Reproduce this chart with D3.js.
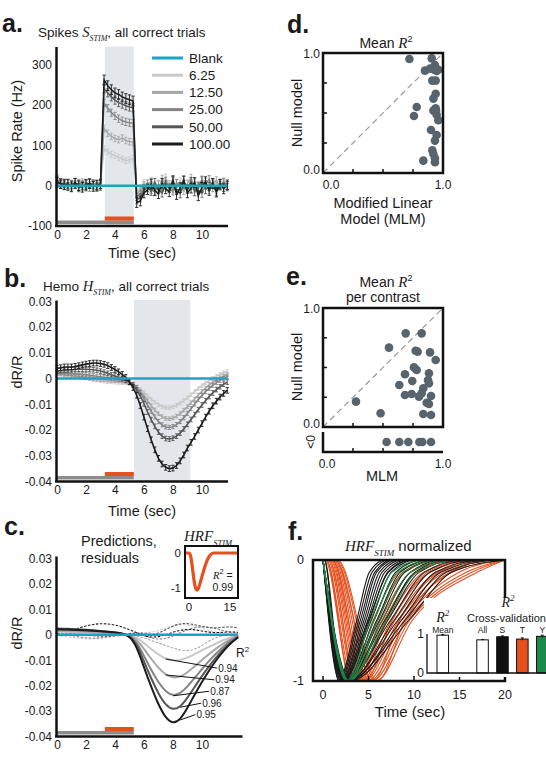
<!DOCTYPE html>
<html>
<head>
<meta charset="utf-8">
<script src="https://cdn.jsdelivr.net/npm/d3@7"></script>
<style>
  body { margin: 0; background: #fff; }
  text { font-family: "Liberation Sans", Arial, sans-serif; fill: #1a1a1a; }
</style>
</head>
<body>
<div id="chart"></div>
<script>
// ---------- data ----------
var contrasts = ["6.25", "12.50", "25.00", "50.00", "100.00"];

// sample times (sec) for panels a and b
var binTimes = [0,0.25,0.5,0.75,1,1.25,1.5,1.75,2,2.25,2.5,2.75,3,3.25,3.5,3.75,4,4.25,4.5,4.75,
  5,5.25,5.5,5.75,6,6.25,6.5,6.75,7,7.25,7.5,7.75,8,8.25,8.5,8.75,9,9.25,9.5,9.75,
  10,10.25,10.5,10.75,11,11.25,11.5,11.75];

// a. spike rate (Hz), one array per contrast
var spike6 = [20,10,3,8,0,5,-2,6,10,1,-3,8,4,
  92,84,78,74,70,66,62,64,68,
  -10,-6,8,-2,14,2,-8,10,22,-4,6,-6,12,0,-10,8,4,-6,18,2,-4,10,6,-2,12,4];
var spike12 = [18,4,8,-2,6,0,3,9,-4,2,5,-1,7,
  142,130,122,117,114,118,112,109,108,
  -20,-12,2,-8,10,-4,-12,18,-6,4,-10,8,-2,-14,6,20,-8,2,-6,10,-12,4,14,-4,6,-2];
var spike25 = [15,6,0,5,-4,2,7,-2,4,-5,6,0,-3,
  205,192,181,173,166,161,158,156,155,
  -28,-20,-6,5,-10,-16,3,-4,12,-8,-14,6,-2,14,-10,0,8,-12,-20,4,16,-6,-10,2,9,-4];
var spike50 = [12,3,6,-2,2,8,-5,1,-3,6,2,-4,3,
  240,230,220,212,206,202,198,195,193,
  -35,-30,-12,-4,-14,8,-10,-18,2,-6,15,-12,-20,4,-8,10,-15,-3,12,-10,-2,8,-14,6,-4,0];
var spike100 = [8,5,2,4,-3,6,0,-4,3,5,-2,1,4,
  262,248,238,230,226,220,216,213,210,
  -42,-38,-18,-10,4,-12,-20,6,-8,-15,10,-22,-5,12,-18,-6,8,-25,-4,10,-12,5,-16,3,-8,2];
var spikeSem = [7, 8, 9, 10, 12];

// b. hemodynamic response dR/R
var hemo6 = [.0025,.0023,.0020,.0017,.0014,.0011,.0008,.0005,.0002,-.0001,-.0004,-.0006,-.0008,-.0010,-.0012,-.0013,-.0014,-.0015,-.0016,-.0017,
  -.0020,-.0025,-.0032,-.0042,-.0054,-.0067,-.0080,-.0092,-.0102,-.0109,-.0113,-.0113,-.0110,-.0104,-.0096,-.0086,-.0075,-.0063,-.0051,-.0039,-.0028,-.0017,-.0008,.0001,.0009,.0016,.0022,.0027];
var hemo12 = [.0018,.0017,.0015,.0013,.0011,.0009,.0007,.0005,.0003,.0001,-.0001,-.0003,-.0004,-.0005,-.0006,-.0007,-.0008,-.0009,-.0010,-.0012,
  -.0016,-.0023,-.0034,-.0049,-.0067,-.0086,-.0105,-.0122,-.0137,-.0148,-.0155,-.0156,-.0153,-.0146,-.0136,-.0123,-.0109,-.0094,-.0079,-.0064,-.0050,-.0037,-.0025,-.0014,-.0005,.0003,.0010,.0015];
var hemo25 = [.0022,.0022,.0021,.0020,.0019,.0018,.0017,.0016,.0015,.0013,.0011,.0009,.0007,.0005,.0003,.0001,-.0001,-.0003,-.0005,-.0008,
  -.0013,-.0022,-.0036,-.0055,-.0078,-.0103,-.0127,-.0149,-.0167,-.0180,-.0188,-.0190,-.0187,-.0179,-.0167,-.0152,-.0135,-.0117,-.0099,-.0082,-.0066,-.0051,-.0038,-.0026,-.0016,-.0007,.0000,.0006];
var hemo50 = [.0030,.0031,.0032,.0033,.0034,.0035,.0036,.0036,.0036,.0035,.0034,.0032,.0029,.0025,.0020,.0015,.0010,.0005,.0000,-.0006,
  -.0014,-.0026,-.0044,-.0068,-.0098,-.0130,-.0160,-.0186,-.0208,-.0224,-.0233,-.0235,-.0232,-.0224,-.0212,-.0196,-.0178,-.0159,-.0140,-.0121,-.0103,-.0086,-.0070,-.0056,-.0043,-.0032,-.0022,-.0014];
var hemo100 = [.0040,.0042,.0045,.0045,.0045,.0047,.0050,.0053,.0056,.0058,.0060,.0060,.0058,.0055,.0050,.0043,.0035,.0026,.0016,.0004,
  -.0012,-.0035,-.0065,-.0105,-.0150,-.0195,-.0238,-.0277,-.0310,-.0332,-.0345,-.0350,-.0348,-.0338,-.0320,-.0297,-.0270,-.0248,-.0225,-.0200,-.0175,-.0150,-.0127,-.0106,-.0088,-.0072,-.0058,-.0046];
var hemoSem = [0.0007, 0.0007, 0.0008, 0.0009, 0.0011];

// c. model predictions and residuals
var predTimes = [0,0.5,1,1.5,2,2.5,3,3.5,4,4.5,5,5.5,6,6.5,7,7.5,8,8.5,9,9.5,10,10.5,11,11.5,12,12.5];
var pred6 = [.0010,.0010,.0010,.0009,.0009,.0008,.0007,.0006,.0005,.0003,.0000,-.0010,-.0032,-.0056,-.0078,-.0095,-.0102,-.0100,-.0090,-.0076,-.0061,-.0047,-.0033,-.0020,-.0010,-.0002];
var pred12 = [.0015,.0015,.0014,.0013,.0012,.0011,.0010,.0008,.0006,.0004,-.0001,-.0018,-.0055,-.0095,-.0130,-.0158,-.0170,-.0166,-.0148,-.0124,-.0099,-.0075,-.0053,-.0033,-.0016,-.0003];
var pred25 = [.0020,.0020,.0019,.0018,.0017,.0015,.0013,.0010,.0008,.0005,-.0002,-.0028,-.0083,-.0138,-.0188,-.0224,-.0240,-.0232,-.0204,-.0170,-.0135,-.0102,-.0072,-.0045,-.0022,-.0005];
var pred50 = [.0025,.0024,.0023,.0022,.0020,.0018,.0015,.0012,.0009,.0005,-.0003,-.0035,-.0105,-.0172,-.0232,-.0277,-.0296,-.0285,-.0248,-.0205,-.0162,-.0122,-.0087,-.0056,-.0030,-.0008];
var pred100 = [.0022,.0021,.0020,.0019,.0018,.0016,.0014,.0012,.0009,.0005,-.0005,-.0045,-.0128,-.0205,-.0275,-.0328,-.0350,-.0335,-.0288,-.0235,-.0185,-.0140,-.0098,-.0062,-.0032,-.0010];
var resid6 = [-.0002,-.0006,-.0010,-.0014,-.0016,-.0016,-.0014,-.0010,-.0006,-.0002,.0002,.0006,.0008,.0010,.0016,.0026,.0036,.0041,.0040,.0034,.0025,.0016,.0010,.0006,.0004,.0002];
var resid12 = [.0002,.0000,-.0002,-.0002,.0000,.0003,.0006,.0008,.0008,.0006,.0002,-.0004,-.0012,-.0022,-.0032,-.0042,-.0052,-.0060,-.0063,-.0058,-.0042,-.0024,-.0010,-.0002,.0002,.0003];
var resid25 = [.0006,.0002,-.0003,-.0008,-.0012,-.0014,-.0012,-.0008,-.0003,.0002,.0006,.0004,-.0004,-.0012,-.0018,-.0015,-.0005,.0008,.0020,.0028,.0032,.0030,.0024,.0016,.0010,.0006];
var resid50 = [.0010,.0008,.0005,.0002,-.0001,-.0004,-.0006,-.0006,-.0004,.0000,.0005,.0008,.0006,.0000,.0006,.0020,.0035,.0044,.0045,.0040,.0033,.0028,.0027,.0030,.0032,.0028];
var resid100 = [.0005,.0010,.0018,.0027,.0035,.0041,.0044,.0043,.0039,.0031,.0020,.0008,-.0004,-.0010,-.0008,.0000,.0010,.0018,.0022,.0020,.0015,.0010,.0008,.0010,.0012,.0010];
var r2Values = ["0.94", "0.94", "0.87", "0.96", "0.95"];
var r2AnchorTime = [7.5, 7.5, 8, 8.5, 8.5];
var r2LabelTime = [11.05, 10.85, 10.5, 9.95, 9.55];
var r2LabelValue = [-0.0131, -0.0177, -0.0222, -0.0269, -0.0314];

// c inset: fitted HRF
var hrfTimes = [-1.5,0,0.5,1,1.5,2,2.5,3,3.5,4,5,6,7,8,9,18];
var hrfValues = [0,0,-0.06,-0.28,-0.58,-0.86,-1.02,-1.06,-1.0,-0.88,-0.6,-0.34,-0.15,-0.04,0,0];

// time windows (sec)
var stimWindow = [3.3, 5.3];
var hemoWindow = [5.3, 9.2];
var trialStart = 0;

// d. mean R^2, MLM vs null model
var dMLM  = [0.72,0.906,0.85,0.892,0.933,0.947,0.961,0.911,0.939,0.781,0.758,0.939,0.92,0.939,0.942,0.947,0.961,0.9,0.947,0.933,0.911,0.92,0.933,0.836,0.933,0.92,0.928];
var dNull = [0.95,0.955,0.853,0.87,0.90,0.85,0.86,0.77,0.77,0.55,0.475,0.66,0.62,0.54,0.518,0.485,0.44,0.358,0.316,0.27,0.19,0.158,0.122,0.103,0.089,0.52,0.86];

// e. mean R^2 per contrast
var eMLM  = [0.275,0.48,0.55,0.689,0.822,0.772,0.789,0.892,0.939,0.758,0.781,0.683,0.883,0.744,0.636,0.875,0.883,0.836,0.683,0.739,0.822,0.8,0.9,0.864,0.883,0.836,0.9];
var eNull = [0.213,0.115,0.667,0.787,0.787,0.641,0.633,0.627,0.563,0.501,0.479,0.443,0.451,0.386,0.353,0.395,0.367,0.325,0.269,0.277,0.283,0.255,0.261,0.204,0.193,0.109,0.101];
var eNegMLM = [0.53,0.636,0.711,0.803,0.828,0.9];

// f. normalized HRFs: [onset, peak time, half-recovery, 10% level, back to 0] (sec)
var hrfSubjS = [[0,1.8,3.9,5.4,7.2],[0,1.9,4.1,5.7,7.6],[0,2.0,4.3,5.9,7.9],[0,2.0,4.5,6.2,8.3],[0,2.1,4.7,6.5,8.7],
  [0,2.2,4.9,6.8,9.2],[0,2.3,5.1,7.1,9.6],[0,2.2,5.3,7.5,10.2],[0,2.4,5.6,8.0,11],[0,2.5,5.9,8.5,11.8],
  [0,2.3,6.2,9.0,12.5],[0,2.6,6.5,9.6,13.2],[0,2.4,6.8,10.1,14],[0,2.7,7.1,10.6,14.8],[0,2.5,7.4,11.2,15.5],
  [0,2.8,7.8,11.8,16.5],[0,2.6,8.2,12.4,17.5],[0,2.9,8.6,13,18.5],[0,2.7,9.0,13.6,19.5],[0,3.0,9.4,14.2,20],
  [0.2,1.7,3.7,5.1,6.8],[0.1,2.1,5.0,7.2,9.8]];
var hrfSubjT = [[0,2.9,5.5,8.4,12],[0.2,3.1,5.9,9.0,13],[0.3,3.3,6.3,9.7,14],[0.5,3.5,6.7,10.4,15],[0.6,3.7,7.1,11.1,16],
  [0.8,3.9,7.5,11.8,17],[0.9,4.1,7.9,12.6,18],[1.0,4.3,8.3,13.4,19],[1.1,4.5,8.6,14.2,20],[1.2,4.8,8.9,15.0,20],
  [1.3,5.1,9.2,15.8,20],[1.4,5.4,9.5,16.4,20],[1.5,5.8,9.8,17.0,20],[0.4,3.0,6.0,8.8,12.5],[0.7,3.6,6.9,10.2,14.5],
  [1.0,4.6,7.6,11.5,16],[1.3,5.5,8.4,12.8,17.5],[1.6,6.0,9.0,14.0,19]];
var hrfSubjY = [[0,2.6,5.2,7.6,11],[0,2.7,5.6,8.2,12],[0,2.8,6.0,8.8,13],[0,2.9,6.5,9.6,14],[0,2.7,7.0,10.3,15]];

// f inset: R^2 bars
var barLabels = ["Mean", "gap", "All", "S", "T", "Y"];
var barValues = [0.97, null, 0.85, 0.93, 0.87, 0.94];
var barErrors = [0.02, null, 0.01, 0.02, 0.03, 0.03];

// ---------- styles ----------
var grays = ["#c9c9c9", "#a7a7a7", "#858585", "#565656", "#1c1c1c"];
var blankColor = "#1ba3c2";
var orange = "#e5501e";
var green = "#1c8a4b";
var dotColor = "#58646d";
var serif = "'Liberation Serif', 'DejaVu Serif', serif";

var svg = d3.select("#chart").append("svg")
  .attr("width", 546).attr("height", 758);

// text with math-style pieces (italic serif, sub/superscript)
function richText(g, x, y, size, parts, anchor) {
  var t = g.append("text").attr("x", x).attr("y", y)
    .attr("font-size", size).attr("text-anchor", anchor || "start");
  var shift = 0;
  parts.forEach(function(p) {
    var s = t.append("tspan").text(p.t);
    var target = p.sub ? size * 0.3 : p.sup ? -size * 0.45 : 0;
    s.attr("dy", target - shift);
    shift = target;
    if (p.math) s.attr("font-family", serif).attr("font-style", "italic");
    if (p.size) s.attr("font-size", p.size);
  });
  return t;
}

function panelLetter(x, y, s) {
  svg.append("text").attr("x", x).attr("y", y).attr("font-size", 25)
    .attr("font-weight", "bold").text(s);
}

function vLabel(x, cy, s, size) {
  svg.append("text").attr("transform", "rotate(-90)")
    .attr("x", -cy).attr("y", x).attr("text-anchor", "middle")
    .attr("font-size", size || 14.5).text(s);
}

function styleAxis(g, w) {
  g.select(".domain").attr("stroke", "#111").attr("stroke-width", w || 2.5);
  g.selectAll(".tick text").attr("fill", "#222")
    .attr("font-family", "'Liberation Sans', Arial, sans-serif").attr("font-size", 12);
}

// plain hyphen minus, like the original figure
function fmtPlain(d) { return String(d); }
function fmtHemo(d) { return d === 0 ? "0" : d.toFixed(2); }

function errorSeries(g, x, y, times, vals, color, sem, lw) {
  g.append("g").selectAll("path").data(vals).enter().append("path")
    .attr("fill", "none").attr("stroke", color).attr("stroke-width", 0.9)
    .attr("d", function(d, i) {
      var xx = x(times[i]), a = y(d - sem), b = y(d + sem);
      return "M" + xx + "," + a + "V" + b + "M" + (xx - 1.6) + "," + a + "h3.2M" + (xx - 1.6) + "," + b + "h3.2";
    });
  g.append("path").datum(vals)
    .attr("fill", "none").attr("stroke", color).attr("stroke-width", lw)
    .attr("d", d3.line().x(function(d, i) { return x(times[i]); }).y(function(d) { return y(d); }));
}

function stimBars(g, x, yAxis) {
  g.append("rect").attr("x", x(trialStart)).attr("y", yAxis - 5.5)
    .attr("width", x(stimWindow[1]) - x(trialStart)).attr("height", 3.5).attr("fill", "#8c8c8c");
  g.append("rect").attr("x", x(stimWindow[0])).attr("y", yAxis - 9.5)
    .attr("width", x(stimWindow[1]) - x(stimWindow[0])).attr("height", 4).attr("fill", orange);
}

// ---------- panel a ----------
(function() {
  var x = d3.scaleLinear().domain([0, 11.8]).range([57, 228]);
  var y = d3.scaleLinear().domain([-100, 345]).range([226, 46.5]);
  var g = svg.append("g");
  var series = [spike6, spike12, spike25, spike50, spike100];

  g.append("rect").attr("x", x(stimWindow[0])).attr("y", y(345))
    .attr("width", x(stimWindow[1]) - x(stimWindow[0])).attr("height", y(-100) - y(345))
    .attr("fill", "#e3e7eb");

  series.forEach(function(s, i) { errorSeries(g, x, y, binTimes, s, grays[i], spikeSem[i], 1.5); });
  g.append("line").attr("x1", x(0)).attr("x2", x(11.75)).attr("y1", y(0)).attr("y2", y(0))
    .attr("stroke", blankColor).attr("stroke-width", 2.5);
  stimBars(g, x, y(-100));

  var ay = g.append("g").attr("transform", "translate(56,0)")
    .call(d3.axisLeft(y).tickValues([-100, 0, 100, 200, 300]).tickFormat(fmtPlain).tickSize(0).tickPadding(4));
  styleAxis(ay);
  var ax = g.append("g").attr("transform", "translate(0," + y(-100) + ")")
    .call(d3.axisBottom(x).tickValues([0, 2, 4, 6, 8, 10]).tickSize(0).tickPadding(4));
  styleAxis(ax);
  ax.select(".domain").attr("d", "M55,0H228");

  // legend
  var names = ["Blank"].concat(contrasts);
  var cols = [blankColor].concat(grays);
  names.forEach(function(n, i) {
    var yy = 58 + i * 17.2;
    g.append("line").attr("x1", 152).attr("x2", 183).attr("y1", yy).attr("y2", yy)
      .attr("stroke", cols[i]).attr("stroke-width", 3);
    g.append("text").attr("x", 189).attr("y", yy + 4.7).attr("font-size", 13.5).text(n);
  });

  panelLetter(2, 32, "a.");
  richText(svg, 38, 37, 13.5, [
    { t: "Spikes " }, { t: "S", math: true, size: 14.5 }, { t: "STIM", math: true, size: 8, sub: true },
    { t: ", all correct trials" }]);
  vLabel(22, 131, "Spike Rate (Hz)");
  svg.append("text").attr("x", 142).attr("y", 258).attr("text-anchor", "middle")
    .attr("font-size", 14.5).text("Time (sec)");
})();

// ---------- panel b ----------
(function() {
  var x = d3.scaleLinear().domain([0, 11.8]).range([57, 228]);
  var y = d3.scaleLinear().domain([-0.04, 0.0305]).range([481.5, 300]);
  var g = svg.append("g");
  var series = [hemo6, hemo12, hemo25, hemo50, hemo100];

  g.append("rect").attr("x", x(hemoWindow[0])).attr("y", y(0.0305))
    .attr("width", x(hemoWindow[1]) - x(hemoWindow[0])).attr("height", y(-0.04) - y(0.0305))
    .attr("fill", "#e3e7eb");
  series.forEach(function(s, i) { errorSeries(g, x, y, binTimes, s, grays[i], hemoSem[i], 1.6); });
  g.append("line").attr("x1", x(0)).attr("x2", x(11.75)).attr("y1", y(0)).attr("y2", y(0))
    .attr("stroke", blankColor).attr("stroke-width", 2.5);
  stimBars(g, x, y(-0.04));

  var ay = g.append("g").attr("transform", "translate(56,0)")
    .call(d3.axisLeft(y).tickValues([-0.04, -0.03, -0.02, -0.01, 0, 0.01, 0.02, 0.03])
      .tickFormat(fmtHemo).tickSize(0).tickPadding(4));
  styleAxis(ay);
  var ax = g.append("g").attr("transform", "translate(0," + y(-0.04) + ")")
    .call(d3.axisBottom(x).tickValues([0, 2, 4, 6, 8, 10]).tickSize(0).tickPadding(4));
  styleAxis(ax);
  ax.select(".domain").attr("d", "M55,0H228");

  panelLetter(4, 287, "b.");
  richText(svg, 43, 291, 13.5, [
    { t: "Hemo " }, { t: "H", math: true, size: 14.5 }, { t: "STIM", math: true, size: 8, sub: true },
    { t: ", all correct trials" }]);
  vLabel(22, 372, "dR/R");
  svg.append("text").attr("x", 142).attr("y", 516).attr("text-anchor", "middle")
    .attr("font-size", 14.5).text("Time (sec)");
})();

// ---------- panel c ----------
(function() {
  var x = d3.scaleLinear().domain([0, 12.8]).range([57, 242.5]);
  var y = d3.scaleLinear().domain([-0.04, 0.031]).range([736.5, 556]);
  var g = svg.append("g");
  var preds = [pred6, pred12, pred25, pred50, pred100];
  var resids = [resid6, resid12, resid25, resid50, resid100];
  var line = d3.line().curve(d3.curveBasis)
    .x(function(d, i) { return x(predTimes[i]); }).y(function(d) { return y(d); });

  resids.forEach(function(s, i) {
    g.append("path").datum(s).attr("fill", "none").attr("stroke", grays[i])
      .attr("stroke-width", 1.1).attr("stroke-dasharray", "2.5,1.5").attr("d", line);
  });
  preds.forEach(function(s, i) {
    g.append("path").datum(s).attr("fill", "none").attr("stroke", grays[i])
      .attr("stroke-width", 2).attr("d", line);
  });
  g.append("line").attr("x1", x(0)).attr("x2", x(12.5)).attr("y1", y(0)).attr("y2", y(0))
    .attr("stroke", blankColor).attr("stroke-width", 2.5);

  // R^2 labels with leader lines
  preds.forEach(function(s, i) {
    var k = predTimes.indexOf(r2AnchorTime[i]);
    var lx = x(r2LabelTime[i]), ly = y(r2LabelValue[i]);
    g.append("line").attr("x1", x(r2AnchorTime[i])).attr("y1", y(s[k]))
      .attr("x2", lx).attr("y2", ly).attr("stroke", "#111").attr("stroke-width", 1);
    g.append("text").attr("x", lx + 1).attr("y", ly + 3.5).attr("font-size", 10).text(r2Values[i]);
  });
  richText(g, 236, 657, 12, [{ t: "R" }, { t: "2", sup: true, size: 8 }]);

  stimBars(g, x, y(-0.04));
  var ay = g.append("g").attr("transform", "translate(56,0)")
    .call(d3.axisLeft(y).tickValues([-0.04, -0.03, -0.02, -0.01, 0, 0.01, 0.02, 0.03])
      .tickFormat(fmtHemo).tickSize(0).tickPadding(4));
  styleAxis(ay);
  var ax = g.append("g").attr("transform", "translate(0," + y(-0.04) + ")")
    .call(d3.axisBottom(x).tickValues([0, 2, 4, 6, 8, 10]).tickSize(0).tickPadding(4));
  styleAxis(ax);
  ax.select(".domain").attr("d", "M55,0H242.5");

  // inset HRF
  var ix = d3.scaleLinear().domain([0, 15]).range([189, 230]);
  var iy = d3.scaleLinear().domain([-1, 0]).range([588, 553]);
  var clip = svg.append("clipPath").attr("id", "hrfclip");
  clip.append("rect").attr("x", 185).attr("y", 546).attr("width", 53).attr("height", 52);
  g.append("rect").attr("x", 185).attr("y", 546).attr("width", 53).attr("height", 52)
    .attr("fill", "#fff");
  g.append("path").datum(hrfValues).attr("clip-path", "url(#hrfclip)")
    .attr("fill", "none").attr("stroke", orange).attr("stroke-width", 3.2)
    .attr("d", d3.line().curve(d3.curveMonotoneX)
      .x(function(d, i) { return ix(hrfTimes[i]); }).y(function(d) { return iy(d); }));
  g.append("rect").attr("x", 185).attr("y", 546).attr("width", 53).attr("height", 52)
    .attr("fill", "none").attr("stroke", "#111").attr("stroke-width", 2);
  [0, -1].forEach(function(v) {
    g.append("text").attr("x", 181).attr("y", iy(v) + 4).attr("text-anchor", "end")
      .attr("font-size", 11.5).text(v);
  });
  [0, 15].forEach(function(v) {
    g.append("text").attr("x", ix(v)).attr("y", 611).attr("text-anchor", "middle")
      .attr("font-size", 11.5).text(v);
  });
  richText(g, 213, 579, 10.5, [{ t: "R", math: true }, { t: "2", sup: true, size: 7.5 }, { t: " =" }])
    .attr("fill", "#444");
  g.append("text").attr("x", 233).attr("y", 591).attr("text-anchor", "end")
    .attr("font-size", 10.5).attr("fill", "#333").text("0.99");
  richText(g, 184, 541, 15, [{ t: "HRF", math: true }, { t: "STIM", math: true, size: 8.5, sub: true }]);

  panelLetter(4, 535, "c.");
  svg.append("text").attr("x", 81).attr("y", 546).attr("font-size", 14.5).text("Predictions,");
  svg.append("text").attr("x", 81).attr("y", 563).attr("font-size", 14.5).text("residuals");
  vLabel(22, 633, "dR/R");
  svg.append("text").attr("x", 148).attr("y", 769).attr("text-anchor", "middle")
    .attr("font-size", 14.5).text("Time (sec)");
})();

// ---------- scatter panels d, e ----------
function boxTicks(g, x, y, x0, y0, len) {
  [0.25, 0.5, 0.75].forEach(function(t) {
    g.append("line").attr("x1", x0).attr("x2", x0 + len).attr("y1", y(t)).attr("y2", y(t))
      .attr("stroke", "#111").attr("stroke-width", 1.5);
  });
}
function bottomTicks(g, x, yy) {
  [0.25, 0.5, 0.75].forEach(function(t) {
    g.append("line").attr("x1", x(t)).attr("x2", x(t)).attr("y1", yy).attr("y2", yy - 4)
      .attr("stroke", "#111").attr("stroke-width", 1.5);
  });
}

(function() {
  var x = d3.scaleLinear().domain([0, 1]).range([323, 443]);
  var y = d3.scaleLinear().domain([0, 1]).range([173, 53]);
  var g = svg.append("g");
  g.append("line").attr("x1", x(0)).attr("y1", y(0)).attr("x2", x(1)).attr("y2", y(1))
    .attr("stroke", "#999").attr("stroke-width", 1.2).attr("stroke-dasharray", "6,4");
  g.selectAll("circle").data(dMLM).enter().append("circle")
    .attr("cx", function(d) { return x(d); })
    .attr("cy", function(d, i) { return y(dNull[i]); })
    .attr("r", 4.3).attr("fill", dotColor);
  g.append("rect").attr("x", x(0)).attr("y", y(1)).attr("width", x(1) - x(0)).attr("height", y(0) - y(1))
    .attr("fill", "none").attr("stroke", "#111").attr("stroke-width", 2.5);
  boxTicks(g, x, y, x(0), 0, 4);
  bottomTicks(g, x, y(0));
  [["1.0", y(1) + 5], ["0.0", y(0) + 1]].forEach(function(p) {
    g.append("text").attr("x", 320).attr("y", p[1]).attr("text-anchor", "end").attr("font-size", 12).text(p[0]);
  });
  g.append("text").attr("x", x(0) + 8).attr("y", 189).attr("text-anchor", "middle").attr("font-size", 12).text("0.0");
  g.append("text").attr("x", x(1)).attr("y", 189).attr("text-anchor", "middle").attr("font-size", 12).text("1.0");
  g.append("text").attr("x", 383).attr("y", 208).attr("text-anchor", "middle").attr("font-size", 14.5).text("Modified Linear");
  g.append("text").attr("x", 383).attr("y", 224).attr("text-anchor", "middle").attr("font-size", 14.5).text("Model (MLM)");
  richText(g, 386, 48, 14, [{ t: "Mean " }, { t: "R", math: true, size: 15 }, { t: "2", sup: true, size: 9 }], "middle");
  vLabel(302, 113, "Null model");
  panelLetter(287, 33, "d.");
})();

(function() {
  var x = d3.scaleLinear().domain([0, 1]).range([323, 443]);
  var y = d3.scaleLinear().domain([0, 1]).range([427, 308]);
  var negY = 442;
  var g = svg.append("g");
  g.append("line").attr("x1", x(0)).attr("y1", y(0)).attr("x2", x(1)).attr("y2", y(1))
    .attr("stroke", "#999").attr("stroke-width", 1.2).attr("stroke-dasharray", "6,4");
  g.selectAll("circle.pos").data(eMLM).enter().append("circle")
    .attr("cx", function(d) { return x(d); })
    .attr("cy", function(d, i) { return y(eNull[i]); })
    .attr("r", 4.3).attr("fill", dotColor);
  g.selectAll("circle.neg").data(eNegMLM).enter().append("circle")
    .attr("cx", function(d) { return x(d); }).attr("cy", negY)
    .attr("r", 4.3).attr("fill", dotColor);
  g.append("rect").attr("x", x(0)).attr("y", y(1)).attr("width", x(1) - x(0)).attr("height", y(0) - y(1))
    .attr("fill", "none").attr("stroke", "#111").attr("stroke-width", 2.5);
  g.append("path").attr("d", "M" + x(0) + ",432V452H" + x(1))
    .attr("fill", "none").attr("stroke", "#111").attr("stroke-width", 2.5);
  boxTicks(g, x, y, x(0), 0, 4);
  bottomTicks(g, x, y(0));
  bottomTicks(g, x, 452);
  [["1.0", y(1) + 5], ["0.0", y(0) + 1]].forEach(function(p) {
    g.append("text").attr("x", 320).attr("y", p[1]).attr("text-anchor", "end").attr("font-size", 12).text(p[0]);
  });
  g.append("text").attr("transform", "rotate(-90)").attr("x", -negY).attr("y", 315)
    .attr("text-anchor", "middle").attr("font-size", 12).text("<0");
  g.append("text").attr("x", x(0) + 4).attr("y", 468).attr("text-anchor", "middle").attr("font-size", 12).text("0.0");
  g.append("text").attr("x", x(1)).attr("y", 468).attr("text-anchor", "middle").attr("font-size", 12).text("1.0");
  g.append("text").attr("x", 382).attr("y", 481).attr("text-anchor", "middle").attr("font-size", 14.5).text("MLM");
  richText(g, 386, 287, 14, [{ t: "Mean " }, { t: "R", math: true, size: 15 }, { t: "2", sup: true, size: 9 }], "middle");
  g.append("text").attr("x", 383).attr("y", 302).attr("text-anchor", "middle").attr("font-size", 14).text("per contrast");
  vLabel(302, 367, "Null model");
  panelLetter(286, 285, "e.");
})();

// ---------- panel f ----------
(function() {
  var x = d3.scaleLinear().domain([0, 20]).range([323, 505]);
  var y = d3.scaleLinear().domain([-1, 0]).range([681, 560]);
  var g = svg.append("g");
  var line = d3.line().curve(d3.curveMonotoneX)
    .x(function(d) { return x(d[0]); }).y(function(d) { return y(d[1]); });
  function pts(k) {
    var p = [];
    if (k[0] > 0) p.push([0, 0]);
    p.push([k[0], 0], [k[1], -1], [k[2], -0.5], [k[3], -0.1], [k[4], 0]);
    if (k[4] < 20) p.push([20, 0]);
    return p;
  }
  svg.append("clipPath").attr("id", "fclip").append("rect")
    .attr("x", x(-1.1)).attr("y", y(0)).attr("width", x(20) - x(-1.1)).attr("height", y(-1) - y(0));
  var curves = g.append("g").attr("clip-path", "url(#fclip)");
  [[hrfSubjT, orange], [hrfSubjS, "#1a1a1a"], [hrfSubjY, green]].forEach(function(grp) {
    curves.selectAll(null).data(grp[0]).enter().append("path")
      .attr("fill", "none").attr("stroke", grp[1]).attr("stroke-width", 1.1)
      .attr("d", function(k) { return line(pts(k)); });
  });
  g.append("rect").attr("x", x(-1.1)).attr("y", y(0)).attr("width", x(20) - x(-1.1)).attr("height", y(-1) - y(0))
    .attr("fill", "none").attr("stroke", "#111").attr("stroke-width", 2.5);
  [0, 5, 10, 15, 20].forEach(function(t) {
    g.append("line").attr("x1", x(t)).attr("x2", x(t)).attr("y1", y(-1)).attr("y2", y(-1) - 5)
      .attr("stroke", "#111").attr("stroke-width", 1.5);
    g.append("text").attr("x", x(t)).attr("y", y(-1) + 18).attr("text-anchor", "middle")
      .attr("font-size", 12.5).text(t);
  });
  g.append("text").attr("x", 304).attr("y", y(0) + 4).attr("text-anchor", "end").attr("font-size", 12.5).text("0");
  g.append("text").attr("x", 304).attr("y", y(-1) + 4).attr("text-anchor", "end").attr("font-size", 12.5).text("-1");
  g.append("text").attr("x", 410).attr("y", 717).attr("text-anchor", "middle").attr("font-size", 15).text("Time (sec)");
  richText(g, 345, 551, 15, [{ t: "HRF", math: true }, { t: "STIM", math: true, size: 9, sub: true },
    { t: " normalized" }]);
  panelLetter(288, 540, "f.");

  // inset bars
  var bx = d3.scaleBand().domain(barLabels).range([437, 548]).paddingInner(0.42);
  var by = d3.scaleLinear().domain([0, 1]).range([673, 634]);
  g.append("rect").attr("x", 424).attr("y", 598).attr("width", 130).attr("height", 79).attr("fill", "#fff");
  var barFill = ["#fff", null, "#fff", "#111", orange, green];
  barLabels.forEach(function(lab, i) {
    if (barValues[i] === null) return;
    var bw = bx.bandwidth(), cx = bx(lab) + bw / 2;
    g.append("rect").attr("x", bx(lab)).attr("y", by(barValues[i]))
      .attr("width", bw).attr("height", by(0) - by(barValues[i]))
      .attr("fill", barFill[i]).attr("stroke", "#111").attr("stroke-width", 1);
    g.append("path").attr("stroke", "#111").attr("stroke-width", 1)
      .attr("d", "M" + cx + "," + by(barValues[i] - barErrors[i]) + "V" + by(barValues[i] + barErrors[i]) +
        "M" + (cx - 1.5) + "," + by(barValues[i] + barErrors[i]) + "h3");
    g.append("text").attr("x", cx).attr("y", 633).attr("text-anchor", "middle")
      .attr("font-size", 8.5).attr("fill", "#444").text(lab);
  });
  g.append("path").attr("d", "M427,634V673H546").attr("fill", "none").attr("stroke", "#111").attr("stroke-width", 1.3);
  g.append("text").attr("x", 424).attr("y", 638).attr("text-anchor", "end").attr("font-size", 12).text("1");
  g.append("text").attr("x", 424).attr("y", 677).attr("text-anchor", "end").attr("font-size", 12).text("0");
  var mx = bx("Mean") + bx.bandwidth() / 2;
  richText(g, mx, 622, 14, [{ t: "R", math: true }, { t: "2", sup: true, math: true, size: 9 }], "middle");
  richText(g, 508, 607, 14, [{ t: "R", math: true }, { t: "2", sup: true, math: true, size: 9 }], "middle");
  g.append("text").attr("x", 467).attr("y", 622).attr("font-size", 11).attr("fill", "#333").text("Cross-validation");
})();
</script>
</body>
</html>
